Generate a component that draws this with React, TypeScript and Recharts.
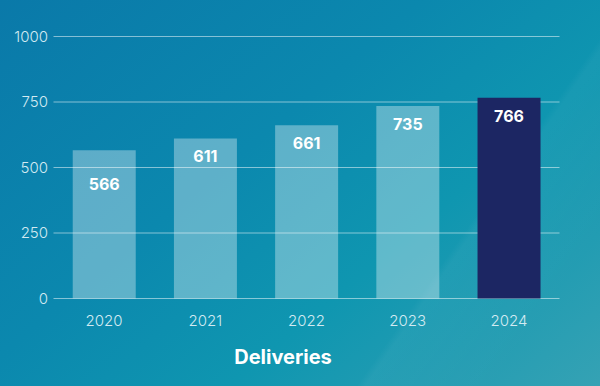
import { Bar, BarChart, CartesianGrid, Cell, LabelList, XAxis, YAxis } from "recharts";

const years = ["2020", "2021", "2022", "2023", "2024"];
const deliveries = [566, 611, 661, 735, 766];
const yTicks = [0, 250, 500, 750, 1000];

const data = years.map((year, i) => ({ year, value: deliveries[i] }));

// value label sits near the top of the bar, pushed below a gridline if it would collide
function BarValue(props: any) {
  const { x, y, width, height, value } = props;
  const bottom = y + height;
  const perUnit = height / value;
  let cy = y + 18;
  for (const t of yTicks) {
    const gy = bottom - t * perUnit;
    if (Math.abs(cy - gy) < 8) cy = gy + 16;
  }
  return (
    <text
      x={x + width / 2}
      y={cy}
      textAnchor="middle"
      dominantBaseline="central"
      fill="#ffffff"
      fontSize={16}
      fontWeight={700}
      fontFamily="Inter, sans-serif"
    >
      {value}
    </text>
  );
}

const tickStyle = { fill: "#d3eaf2", fontSize: 15, fontWeight: 300, fontFamily: "Inter, sans-serif" };

export default function App() {
  return (
    <div
      style={{
        position: "absolute",
        left: 0,
        top: 0,
        width: 600,
        height: 386,
        overflow: "hidden",
        background:
          "linear-gradient(125deg, rgba(255,255,255,0) 0%, rgba(255,255,255,0) 72%, rgba(255,255,255,0.04) 73%, rgba(255,255,255,0) 88%), linear-gradient(140deg, #0a79a9 0%, #0b88ae 40%, #0f96b0 65%, #35a2b4 100%)",
        fontFamily: "Inter, sans-serif",
      }}
    >
      <BarChart
        width={600}
        height={386}
        data={data}
        margin={{ top: 36.5, right: 40.5, bottom: 57.5, left: 0 }}
        barCategoryGap="19%"
      >
        <CartesianGrid vertical={false} stroke="rgba(255,255,255,0.5)" strokeWidth={1} />
        <XAxis
          dataKey="year"
          height={30}
          axisLine={false}
          tickLine={false}
          tickSize={8}
          tickMargin={9}
          tick={tickStyle}
        />
        <YAxis
          width={53.5}
          domain={[0, 1000]}
          ticks={yTicks}
          axisLine={false}
          tickLine={false}
          tickSize={3.5}
          tickMargin={2}
          tick={tickStyle}
        />
        <Bar dataKey="value" isAnimationActive={false}>
          {data.map((d, i) => (
            <Cell key={d.year} fill={i === data.length - 1 ? "#1c2663" : "rgba(255,255,255,0.34)"} />
          ))}
          <LabelList dataKey="value" content={BarValue} />
        </Bar>
      </BarChart>
      <div
        style={{
          position: "absolute",
          left: 0,
          width: 566,
          top: 343,
          textAlign: "center",
          color: "#ffffff",
          fontSize: 20,
          fontWeight: 700,
          lineHeight: "28px",
        }}
      >
        Deliveries
      </div>
    </div>
  );
}
